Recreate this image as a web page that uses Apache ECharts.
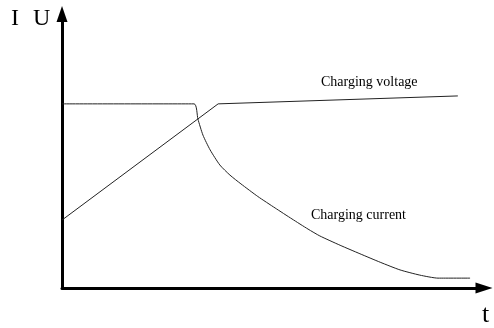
<!DOCTYPE html>
<html>
<head>
<meta charset="utf-8">
<script src="https://cdn.jsdelivr.net/npm/echarts@6/dist/echarts.min.js"></script>
<style>
  html, body { margin: 0; padding: 0; background: #fff; }
  #main { width: 494px; height: 328px; }
</style>
</head>
<body>
<div id="main"></div>
<script>
// 充电电流 (t, I)
var currentData = [
    [0, 67.2], [31.3, 67.2], [32.2, 61.7], [33.4, 55.8], [35.1, 50.4],
    [37.4, 44.9], [39.8, 41.2], [42.4, 38.0], [46.4, 33.4], [50.5, 29.2],
    [54.5, 25.2], [58.3, 21.5], [61.1, 19.0], [65.9, 15.6], [70.6, 12.5],
    [75.4, 9.4], [80.1, 6.6], [84.8, 4.7], [89.1, 3.6], [96.7, 3.6]
];
// 充电电压 (t, U)
var voltageData = [[0, 24.8], [37.0, 67.2], [93.8, 70.1]];
var seriesNames = ['Charging current', 'Charging voltage'];

var myChart = echarts.init(document.getElementById('main'));
var serif = 'Liberation Serif';

var axisCommon = {
    type: 'value',
    min: 0,
    max: 100,
    axisTick: { show: false },
    axisLabel: { show: false },
    splitLine: { show: false }
};

var option = {
    animation: false,
    grid: { left: 62, right: 10, top: 14, bottom: 40 },
    xAxis: Object.assign({}, axisCommon, {
        axisLine: {
            show: true,
            symbol: ['none', 'triangle'],
            symbolSize: [11, 17],
            lineStyle: { color: '#000', width: 3 }
        }
    }),
    yAxis: Object.assign({}, axisCommon, {
        axisLine: {
            show: true,
            onZero: false,
            symbol: ['none', 'triangle'],
            symbolSize: [11, 16],
            lineStyle: { color: '#000', width: 3 }
        }
    }),
    series: [{
        name: seriesNames[0],
        type: 'line',
        data: currentData,
        symbol: 'none',
        smooth: 0.2,
        lineStyle: { color: '#222', width: 1 }
    }, {
        name: seriesNames[1],
        type: 'line',
        data: voltageData,
        symbol: 'none',
        lineStyle: { color: '#222', width: 1 }
    }],
    graphic: [
        { type: 'text', left: 11, top: 7, style: { text: 'I', font: '24px ' + serif, fill: '#000' } },
        { type: 'text', left: 33, top: 7, style: { text: 'U', font: '24px ' + serif, fill: '#000' } },
        { type: 'text', left: 482, top: 302, style: { text: 't', font: '26px ' + serif, fill: '#000' } },
        { type: 'text', left: 321, top: 75, style: { text: seriesNames[1], font: '14px ' + serif, fill: '#000' } },
        { type: 'text', left: 311, top: 208, style: { text: seriesNames[0], font: '14px ' + serif, fill: '#000' } }
    ]
};
myChart.setOption(option);
</script>
</body>
</html>
